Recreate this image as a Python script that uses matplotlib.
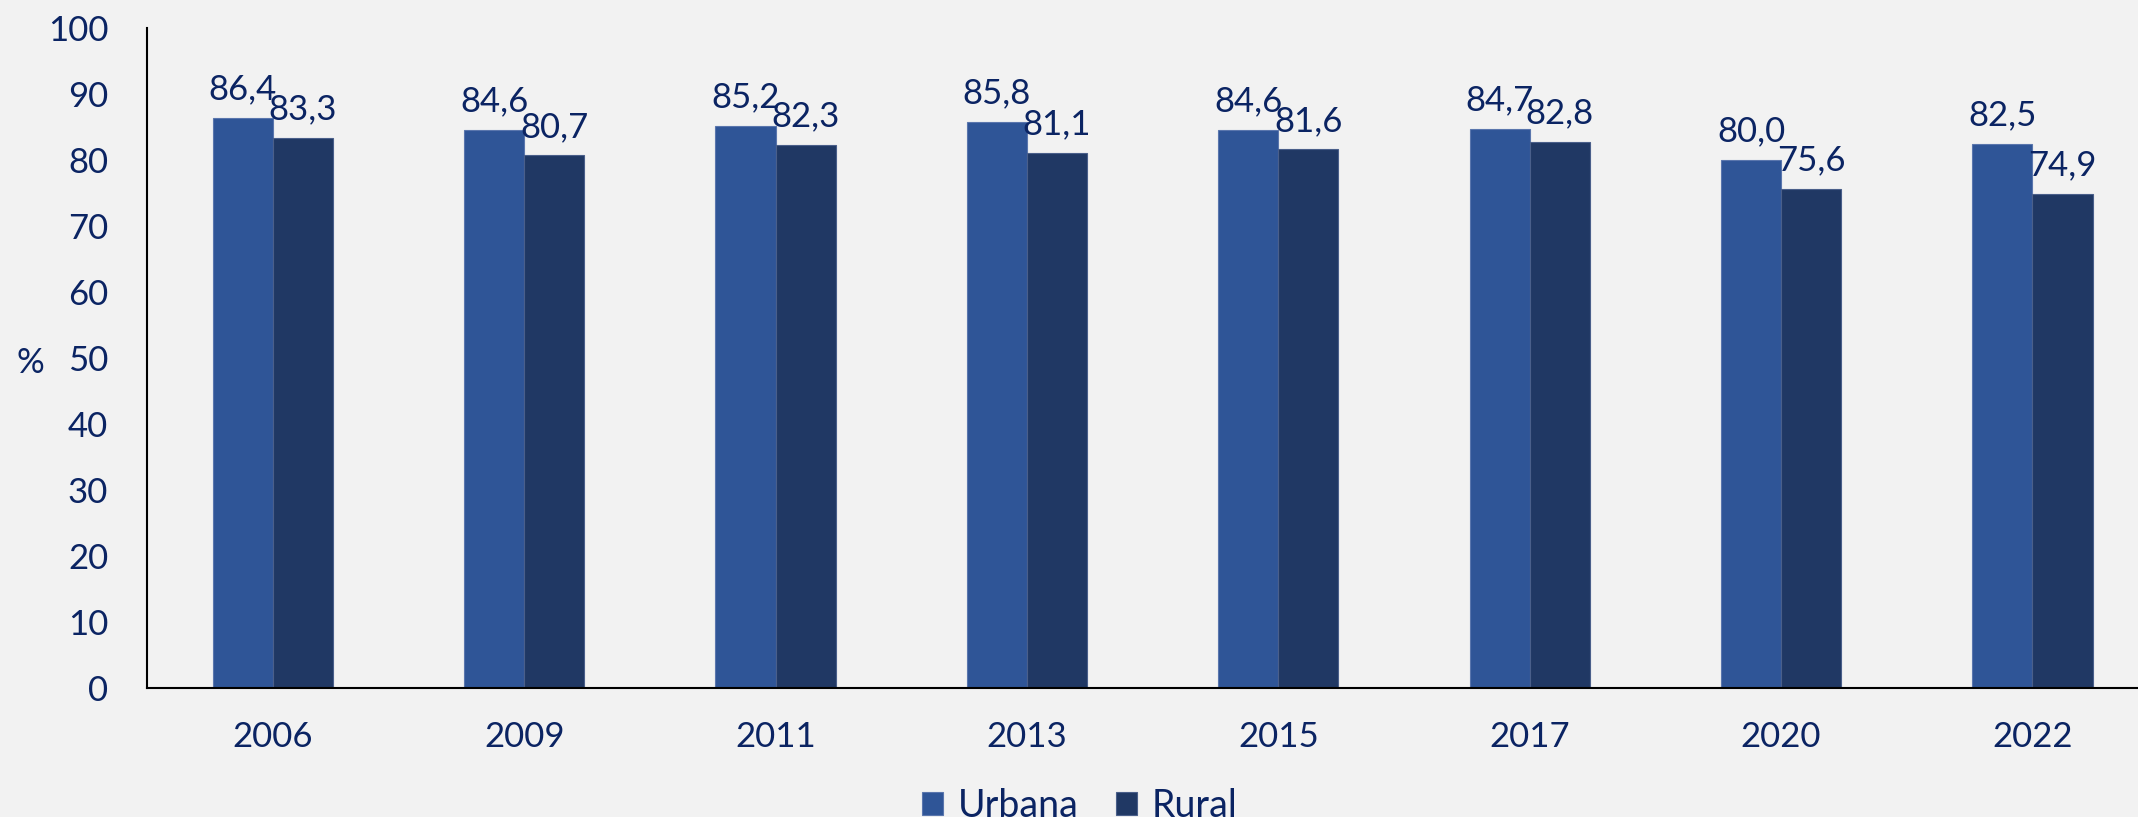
import matplotlib.pyplot as plt
import numpy as np

anios = ["2006", "2009", "2011", "2013", "2015", "2017", "2020", "2022"]
urbana = [86.4, 84.6, 85.2, 85.8, 84.6, 84.7, 80.0, 82.5]
rural = [83.3, 80.7, 82.3, 81.1, 81.6, 82.8, 75.6, 74.9]

FONDO = "#F2F2F2"
TEXTO = "#0B2463"
C_URB = "#2F5597"
C_RUR = "#203864"

plt.rcParams['font.family'] = ['Lato', 'DejaVu Sans']

fig = plt.figure(figsize=(21.38, 8.17), dpi=100, facecolor=FONDO)
ax = fig.add_axes([0.0688, 0.158, 0.9312, 0.8077])
ax.set_facecolor(FONDO)

x = np.arange(len(anios))
w = 0.239
b1 = ax.bar(x - w / 2, urbana, w, color=C_URB, edgecolor="#5a76ad", linewidth=0.8, label="Urbana")
b2 = ax.bar(x + w / 2, rural, w, color=C_RUR, edgecolor="#4a5f8a", linewidth=0.8, label="Rural")

# etiquetas de datos con coma decimal
for barras in (b1, b2):
    for r in barras:
        ax.annotate(f"{r.get_height():.1f}".replace(".", ","),
                    (r.get_x() + r.get_width() / 2, r.get_height()),
                    xytext=(0, 9), textcoords="offset points",
                    ha="center", va="bottom", fontsize=25, color=TEXTO)

ax.set_ylim(0, 100)
ax.set_xlim(-0.5, 7.42)
ax.set_yticks(range(0, 101, 10))
ax.set_xticks(x)
ax.set_xticklabels(anios)
ax.tick_params(axis="both", length=0, labelsize=25, labelcolor=TEXTO)
ax.tick_params(axis="x", pad=24)
ax.tick_params(axis="y", pad=28)
for s in ("top", "right"):
    ax.spines[s].set_visible(False)
for s in ("left", "bottom"):
    ax.spines[s].set_linewidth(1.5)
    ax.spines[s].set_color("black")

fig.text(0.014, 0.556, "%", fontsize=25, color=TEXTO, ha="center", va="center")

leg = fig.legend(loc="center", bbox_to_anchor=(0.505, 0.014), ncol=2, frameon=False,
                 fontsize=27, handlelength=0.55, handleheight=0.55, handletextpad=0.4,
                 columnspacing=1.0)
for t in leg.get_texts():
    t.set_color(TEXTO)

fig.savefig("out.png", dpi=100, facecolor=FONDO)
